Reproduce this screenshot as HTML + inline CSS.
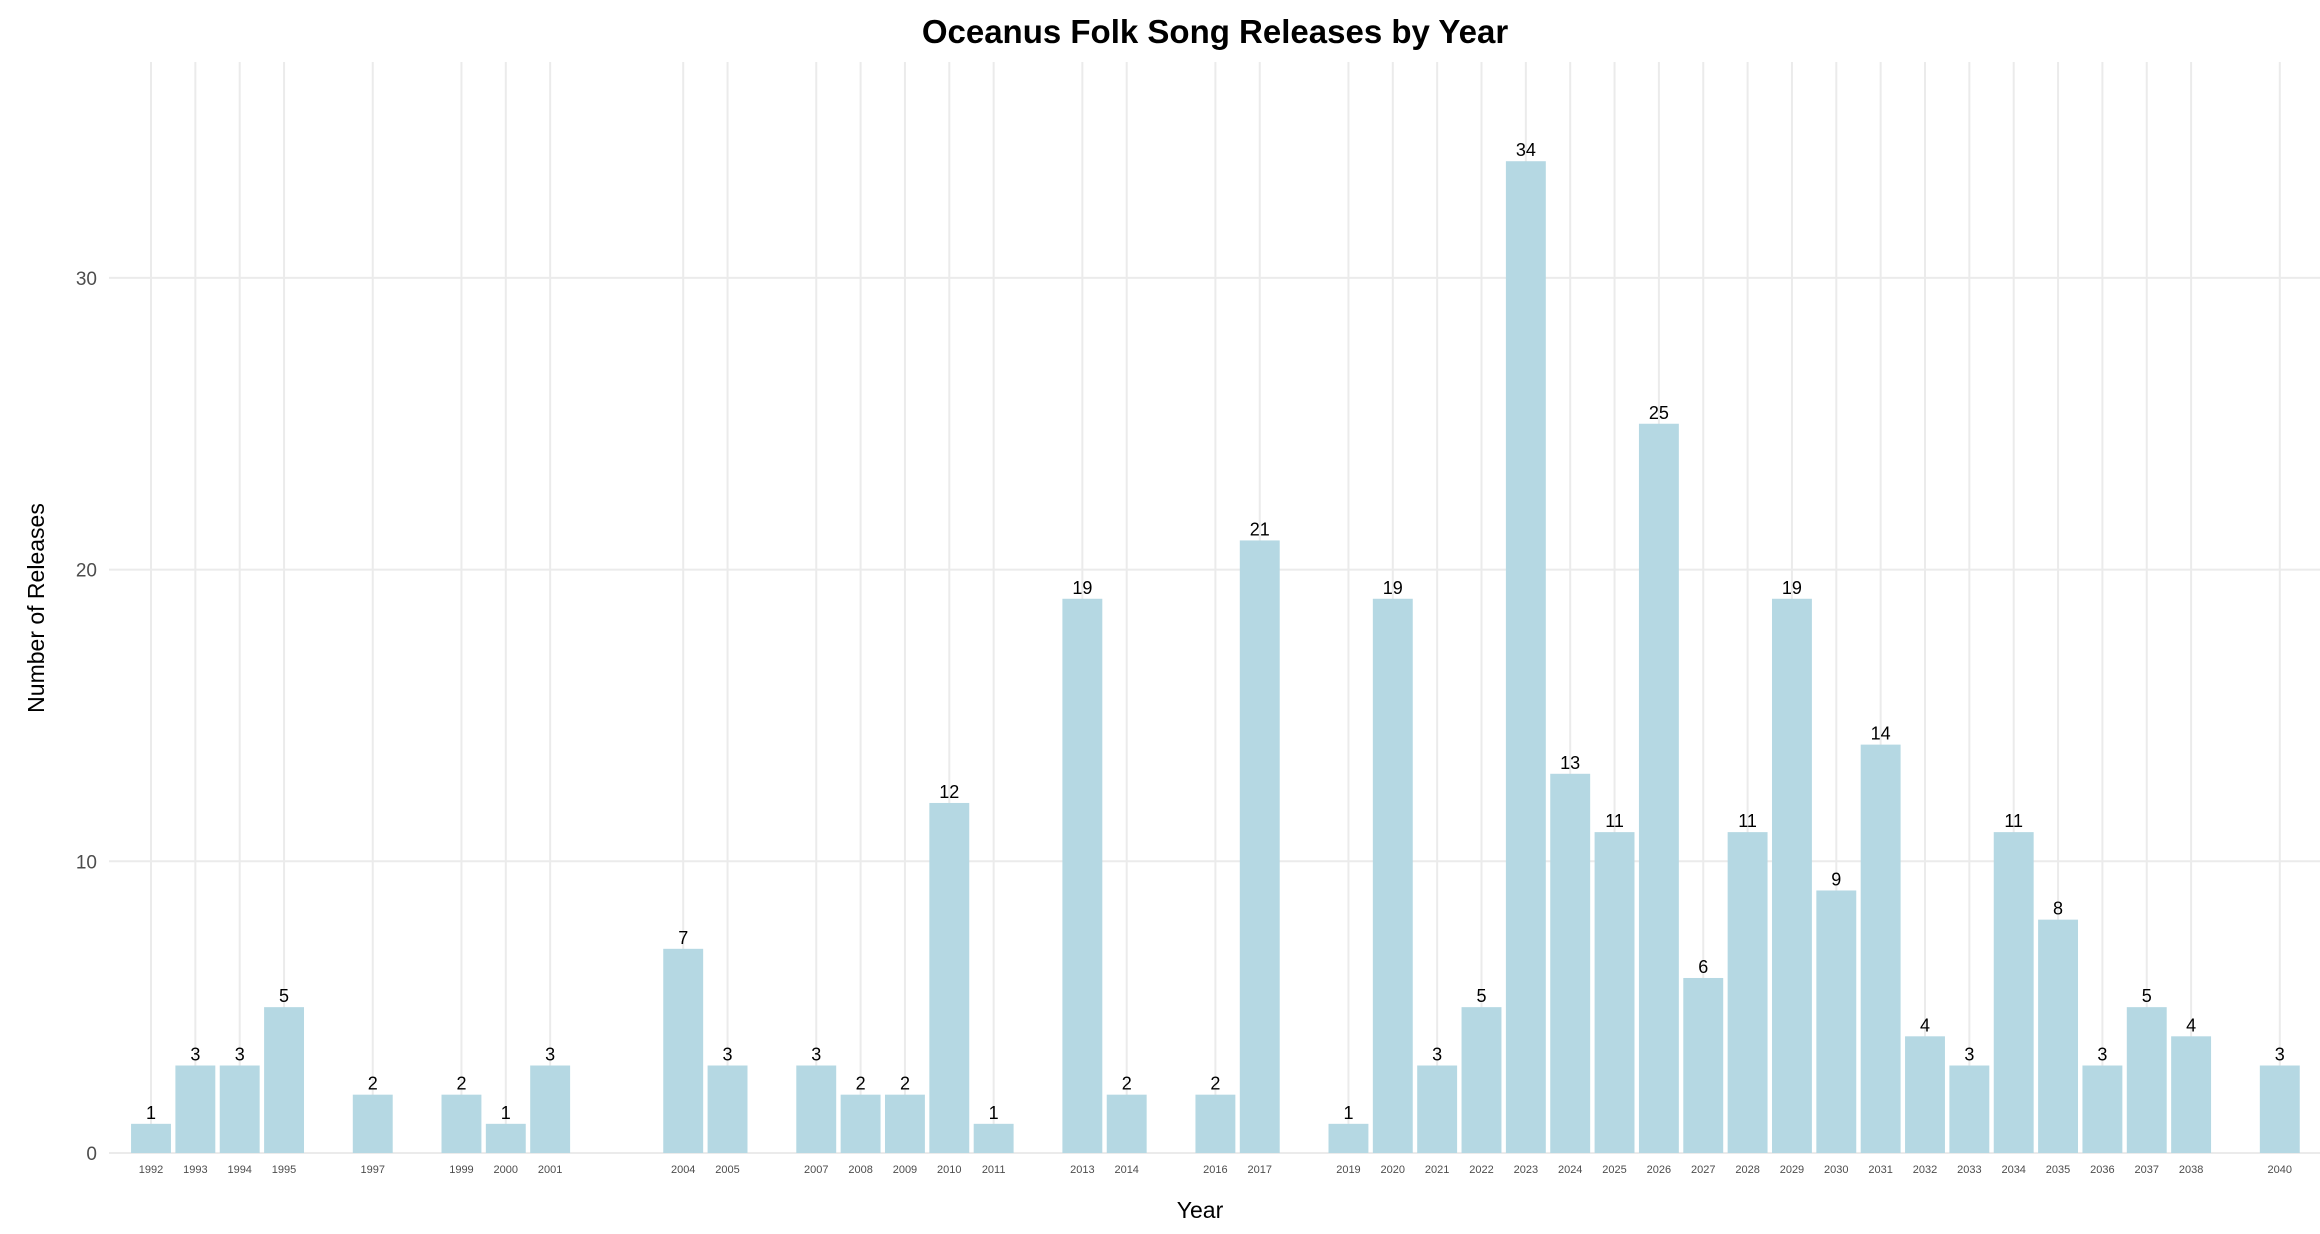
<!DOCTYPE html>
<html><head><meta charset="utf-8"><style>
html,body{margin:0;padding:0;background:#fff;}
svg{display:block;font-family:"Liberation Sans",Arial,sans-serif;}
</style></head><body>
<svg id="chart" width="2320" height="1234" viewBox="0 0 2320 1234">
<text x="1215" y="43" text-anchor="middle" font-size="33" font-weight="bold" fill="#000">Oceanus Folk Song Releases by Year</text>
<g id="grid"></g><g id="bars"></g><g id="labels"></g><g id="xticks"></g><g id="yticks"></g>
<text x="1200" y="1218" text-anchor="middle" font-size="23" fill="#000">Year</text>
<text transform="translate(44,608) rotate(-90)" text-anchor="middle" font-size="23" fill="#000">Number of Releases</text>
</svg>
<script>
const years=[1992,1993,1994,1995,1997,1999,2000,2001,2004,2005,2007,2008,2009,2010,2011,2013,2014,2016,2017,2019,2020,2021,2022,2023,2024,2025,2026,2027,2028,2029,2030,2031,2032,2033,2034,2035,2036,2037,2038,2040];
const counts=[1,3,3,5,2,2,1,3,7,3,3,2,2,12,1,19,2,2,21,1,19,3,5,34,13,11,25,6,11,19,9,14,4,3,11,8,3,5,4,3];
const yTicks=[0,10,20,30];
const NS='http://www.w3.org/2000/svg';
const panelL=109,panelR=2320,panelT=62,base=1153;
const minY=1992,step=44.35;
function xs(y){return 151+(y-minY)*step;}
function ys(v){return base-v*29.17;}
function mk(tag,attrs,parent){const e=document.createElementNS(NS,tag);for(const k in attrs)e.setAttribute(k,attrs[k]);document.getElementById(parent).appendChild(e);return e;}
yTicks.forEach(t=>{
  const l=mk('line',{x1:panelL,x2:panelR,y1:ys(t),y2:ys(t),stroke:'#ebebeb','stroke-width':2},'grid');
  
  
  const tx=mk('text',{x:97,y:ys(t)+7,'text-anchor':'end','font-size':19,fill:'#4d4d4d'},'yticks');
  tx.textContent=t;
  
  
});
years.forEach((yr,i)=>{
  const cx=xs(yr),w=step*0.9,v=counts[i];
  const g=mk('line',{x1:cx,x2:cx,y1:panelT,y2:base,stroke:'#ebebeb','stroke-width':2},'grid');
  
  
  const r=mk('rect',{x:cx-w/2,y:ys(v),width:w,height:base-ys(v),fill:'#b5d8e3'},'bars');
  
  
  const t=mk('text',{x:cx,y:ys(v)-5,'text-anchor':'middle','font-size':18,fill:'#000'},'labels');
  t.textContent=v;
  
  
  const xt=mk('text',{x:cx,y:1173,'text-anchor':'middle','font-size':11,fill:'#4d4d4d'},'xticks');
  xt.textContent=yr;
  
  
});
</script>
</body></html>
